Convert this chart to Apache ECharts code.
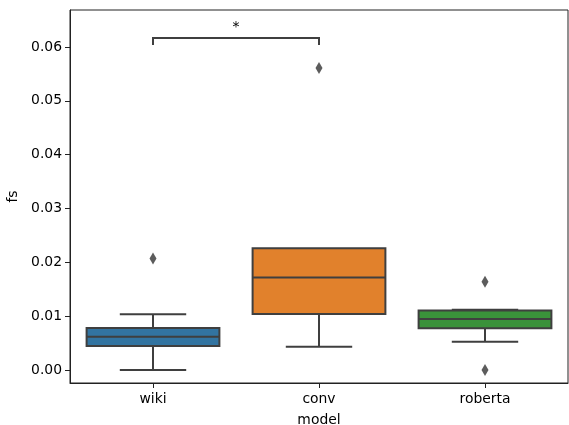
<!DOCTYPE html>
<html><head><meta charset="utf-8">
<script src="https://cdn.jsdelivr.net/npm/echarts@6/dist/echarts.min.js"></script>
<style>html,body{margin:0;padding:0;background:#fff}#c{width:569px;height:425px}</style>
</head><body><div id="c"></div>
<script>
const categories = ['wiki', 'conv', 'roberta'];
// [whiskerLow, Q1, median, Q3, whiskerHigh]
const wikiBox = [0.0000, 0.00446, 0.0062, 0.0078, 0.01034];
const convBox = [0.00433, 0.0104, 0.0172, 0.0226, 0.0226];
const robertaBox = [0.00526, 0.00774, 0.00947, 0.01105, 0.0112];
const outliers = [[0, 0.0207], [1, 0.0561], [2, 0.0164], [2, 0.0000]];
const yTicks = [0, 0.01, 0.02, 0.03, 0.04, 0.05, 0.06];
const bracket = { from: 0, to: 1, y: 0.0617, drop: 0.0013, text: '*' };
const colors = ['#3274a1', '#e1812c', '#3a923a'];

const boxes = [wikiBox, convBox, robertaBox];
const boxData = boxes.map((b, i) => [i, ...b]);
const LINE = '#3f3f3f';
const FONT = 'DejaVu Sans';
const LW = 2;

const chart = echarts.init(document.getElementById('c'));
chart.setOption({
  animation: false,
  grid: { left: 70, right: 1, top: 10, bottom: 42, outerBoundsMode: 'none', containLabel: false,
          show: true, borderColor: '#222', borderWidth: 1, backgroundColor: 'transparent' },
  xAxis: {
    type: 'category', data: categories, boundaryGap: true,
    name: 'model', nameLocation: 'middle', nameGap: 30,
    nameTextStyle: { fontFamily: FONT, fontSize: 13.9, color: '#000' },
    axisLine: { show: true, onZero: false, lineStyle: { color: '#222', width: 1 } },
    axisTick: { show: true, alignWithLabel: true, length: 5, lineStyle: { color: '#222' } },
    axisLabel: { fontFamily: FONT, fontSize: 13.9, color: '#000', margin: 9 },
    splitLine: { show: false }
  },
  yAxis: {
    type: 'value', min: -0.00241, max: 0.06688,
    name: 'fs', nameLocation: 'middle', nameGap: 49,
    nameTextStyle: { fontFamily: FONT, fontSize: 13.9, color: '#000' },
    axisLine: { show: true, onZero: false, lineStyle: { color: '#222', width: 1 } },
    axisTick: { show: true, length: 5, customValues: yTicks, lineStyle: { color: '#222' } },
    axisLabel: { fontFamily: FONT, fontSize: 13.9, color: '#000', margin: 8, customValues: yTicks, formatter: v => v.toFixed(2) },
    splitLine: { show: false }
  },
  series: [
    {
      type: 'custom',
      data: boxData,
      encode: { x: 0, y: [1, 2, 3, 4, 5] },
      renderItem: function (params, api) {
        const xi = api.value(0);
        const band = api.size([1, 0])[0];
        const bw = band * 0.8;
        const cw = bw / 2;
        const pLo = api.coord([xi, api.value(1)]);
        const pQ1 = api.coord([xi, api.value(2)]);
        const pMed = api.coord([xi, api.value(3)]);
        const pQ3 = api.coord([xi, api.value(4)]);
        const pHi = api.coord([xi, api.value(5)]);
        const cx = pMed[0];
        const st = { stroke: LINE, lineWidth: LW, fill: null };
        const children = [
          { type: 'line', shape: { x1: cx, y1: pQ1[1], x2: cx, y2: pLo[1] }, style: st },
          { type: 'line', shape: { x1: cx - cw / 2, y1: pLo[1], x2: cx + cw / 2, y2: pLo[1] }, style: st }
        ];
        if (api.value(5) > api.value(4)) {
          children.push(
            { type: 'line', shape: { x1: cx, y1: pQ3[1], x2: cx, y2: pHi[1] }, style: st },
            { type: 'line', shape: { x1: cx - cw / 2, y1: pHi[1], x2: cx + cw / 2, y2: pHi[1] }, style: st }
          );
        }
        children.push(
          { type: 'rect', shape: { x: cx - bw / 2, y: pQ3[1], width: bw, height: pQ1[1] - pQ3[1] },
            style: { fill: colors[xi], stroke: LINE, lineWidth: LW } },
          { type: 'line', shape: { x1: cx - bw / 2, y1: pMed[1], x2: cx + bw / 2, y2: pMed[1] }, style: st }
        );
        return { type: 'group', children: children };
      },
      z: 2
    },
    {
      type: 'scatter',
      data: outliers,
      symbol: 'diamond',
      symbolSize: [7, 12],
      itemStyle: { color: '#333' },
      z: 3
    },
    {
      type: 'custom',
      data: [[bracket.from, bracket.to, bracket.y, bracket.drop]],
      renderItem: function (params, api) {
        const a = api.coord([api.value(0), api.value(2)]);
        const b = api.coord([api.value(1), api.value(2)]);
        const a0 = api.coord([api.value(0), api.value(2) - api.value(3)]);
        const st = { stroke: LINE, lineWidth: LW, fill: null };
        return {
          type: 'group',
          children: [
            { type: 'polyline', shape: { points: [[a[0], a0[1]], a, b, [b[0], a0[1]]] }, style: st },
            { type: 'text', x: (a[0] + b[0]) / 2, y: a[1] - 3,
              style: { text: bracket.text, fontFamily: FONT, fontSize: 13.9, fill: '#000', align: 'center', verticalAlign: 'bottom' } }
          ]
        };
      },
      z: 3
    }
  ]
});
</script></body></html>
